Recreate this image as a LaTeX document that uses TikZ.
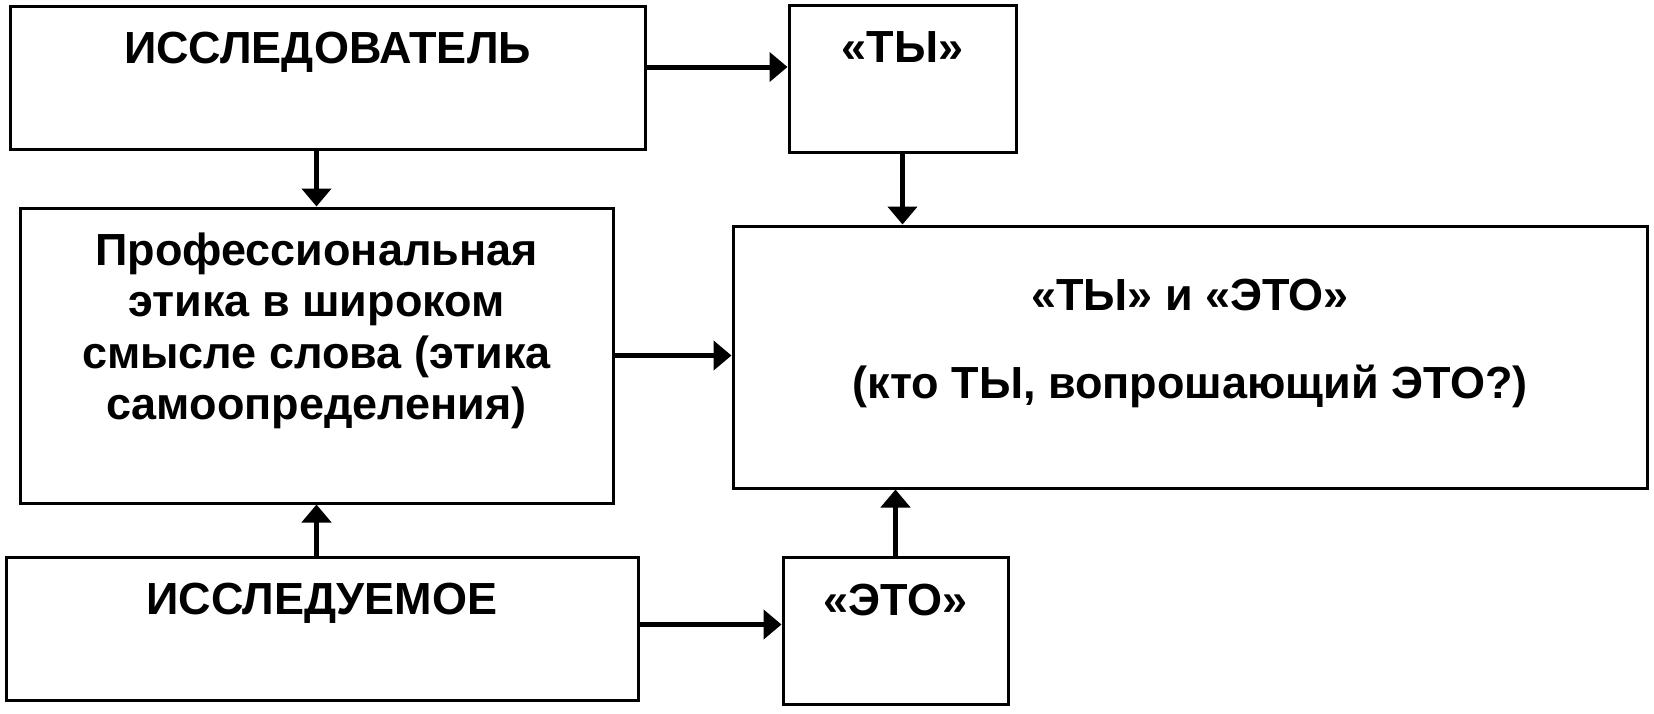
\documentclass[tikz,border=0pt]{standalone}
\usepackage{fontspec}
\setmainfont{Liberation Sans}
\usetikzlibrary{arrows.meta}
\begin{document}
\begin{tikzpicture}[x=1pt,y=-1pt,
  box/.style n args={2}{draw, line width=3pt, inner sep=0pt, minimum width=#1, minimum height=#2},
  lbl/.style={font=\fontsize{45}{51.5}\selectfont\bfseries, inner sep=0pt, align=center},
  arr/.style={line width=5pt, -{Triangle[length=18pt,width=29pt]}}]
\fill[white] (0,0) rectangle (1654,713);
\useasboundingbox (0,0) rectangle (1654,713);
% boxes
\node[box={635pt}{143pt}] (res) at (327.5,77.5) {};
\node[box={227pt}{147pt}] (ty) at (902.5,78.5) {};
\node[box={593pt}{295pt}] (prof) at (316.5,355.5) {};
\node[box={914pt}{262pt}] (both) at (1190,357) {};
\node[box={632pt}{143pt}] (obj) at (322,628.5) {};
\node[box={225pt}{147pt}] (eto) at (895.5,630.5) {};
% texts
\node[lbl, anchor=base] (tres) at (327.5,63) {ИССЛЕДОВАТЕЛЬ};
\node[lbl, anchor=base] (tty) at (902.5,62) {«ТЫ»};
\node[lbl] (tprof) at (316.5,331) {Профессиональная\\этика в широком\\смысле слова (этика\\самоопределения)};
\node[lbl, font=\fontsize{45}{88}\selectfont\bfseries] (tboth) at (1190,343) {«ТЫ» и «ЭТО»\\(кто ТЫ, вопрошающий ЭТО?)};
\node[lbl, anchor=base] (tobj) at (322,614) {ИССЛЕДУЕМОЕ};
\node[lbl, anchor=base] (teto) at (895.5,615) {«ЭТО»};
% connectors
\draw[arr] ([yshift=10.5pt]res.east) -- ([yshift=10.5pt]res.east -| ty.west);
\draw[arr] (res.south -| prof.north) -- (prof.north);
\draw[arr] (ty.south) -- (ty.south |- both.north);
\draw[arr] (prof.east) -- (prof.east -| both.west);
\draw[arr] (obj.north -| prof.south) -- (prof.south);
\draw[arr] ([yshift=4pt]obj.east) -- ([yshift=4pt]obj.east -| eto.west);
\draw[arr] (eto.north) -- (eto.north |- both.south);
\end{tikzpicture}
\end{document}
